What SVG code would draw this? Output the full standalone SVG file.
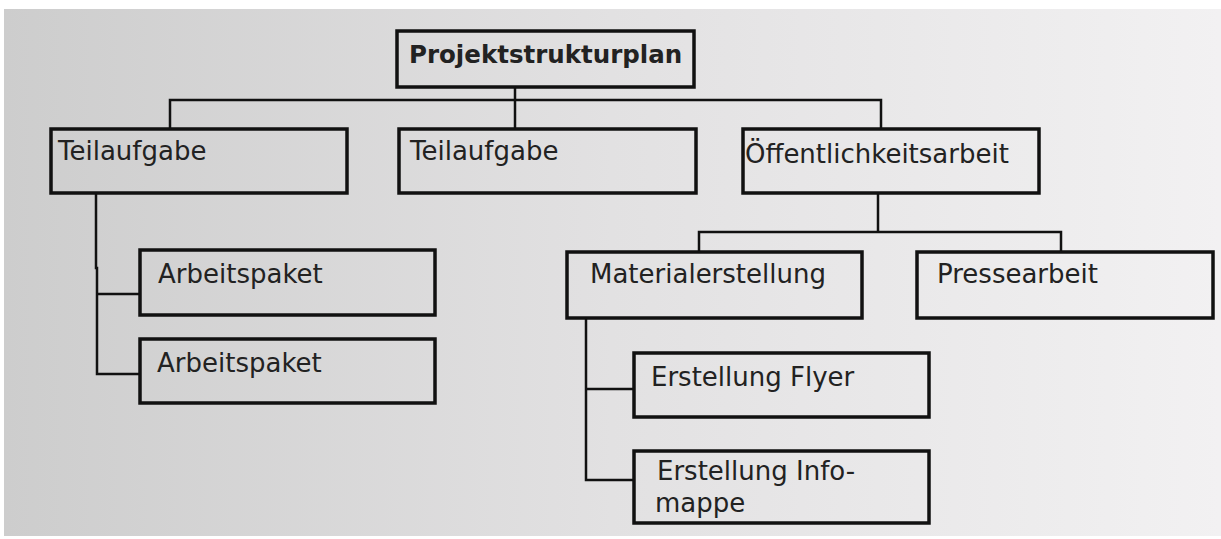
<svg xmlns="http://www.w3.org/2000/svg" width="1221" height="539" viewBox="0 0 1221 539">
<defs>
<linearGradient id="bg" x1="0" y1="0" x2="1" y2="0">
<stop offset="0" stop-color="#cdcdcd"/>
<stop offset="0.5" stop-color="#e2e1e2"/>
<stop offset="1" stop-color="#f2f1f2"/>
</linearGradient>
</defs>
<style>
.box{fill:none;stroke:#111;stroke-width:3.5}
.con{fill:none;stroke:#111;stroke-width:2.5}
.t{font-family:"DejaVu Sans",sans-serif;font-size:26px;fill:#222}
.b{font-family:"DejaVu Sans",sans-serif;font-size:24.5px;font-weight:bold;fill:#222}
</style>
<rect x="0" y="0" width="1221" height="539" fill="#ffffff"/>
<rect x="4" y="9" width="1217" height="527" fill="url(#bg)"/>
<g id="connectors">
<path class="con" d="M170,129 V100 H881 V129"/>
<path class="con" d="M515,87 V129"/>
<path class="con" d="M96,193 V268 H97 V374 H140"/>
<path class="con" d="M97,294 H140"/>
<path class="con" d="M878,193 V232"/>
<path class="con" d="M699,252 V232 H1061 V252"/>
<path class="con" d="M586,318 V480 H634"/>
<path class="con" d="M586,389 H634"/>
</g>
<g id="root"><rect class="box" x="397" y="31" width="297" height="56"/><text class="b" x="409" y="63">Projektstrukturplan</text></g>
<g id="teil1"><rect class="box" x="51" y="129" width="296" height="64"/><text class="t" x="58" y="160">Teilaufgabe</text></g>
<g id="teil2"><rect class="box" x="399" y="129" width="297" height="64"/><text class="t" x="410" y="160">Teilaufgabe</text></g>
<g id="oeff"><rect class="box" x="743" y="129" width="296" height="64"/><text class="t" x="745" y="163">Öffentlichkeitsarbeit</text></g>
<g id="ap1"><rect class="box" x="140" y="250" width="295" height="65"/><text class="t" x="158" y="283">Arbeitspaket</text></g>
<g id="ap2"><rect class="box" x="140" y="339" width="295" height="64"/><text class="t" x="157" y="372">Arbeitspaket</text></g>
<g id="material"><rect class="box" x="567" y="252" width="295" height="66"/><text class="t" x="590" y="283">Materialerstellung</text></g>
<g id="presse"><rect class="box" x="917" y="252" width="296" height="66"/><text class="t" x="937" y="283">Pressearbeit</text></g>
<g id="flyer"><rect class="box" x="634" y="353" width="295" height="64"/><text class="t" x="651" y="386">Erstellung Flyer</text></g>
<g id="infomappe"><rect class="box" x="634" y="451" width="295" height="72"/><text class="t" x="657" y="480">Erstellung Info-</text><text class="t" x="655" y="512">mappe</text></g>
</svg>
